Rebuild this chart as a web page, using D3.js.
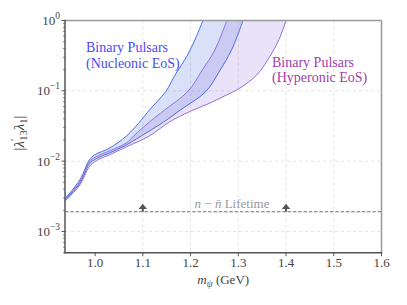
<!DOCTYPE html>
<html><head><meta charset="utf-8">
<script src="https://cdn.jsdelivr.net/npm/d3@7"></script>
<style>body{margin:0;background:#fff}svg{display:block}text{font-family:"Liberation Serif","DejaVu Serif",serif}</style>
</head><body><svg id="c" width="407" height="305"></svg>
<script>
// ---- data ----
const nucUpperX = [0.936,0.968,0.988,0.999,1.030,1.066,1.097,1.114,1.148,1.169,1.192,1.211,1.226];
const nucUpperY = [2.88e-3,5.41e-3,1.04e-2,1.23e-2,1.53e-2,2.29e-2,3.86e-2,5.36e-2,9.77e-2,0.175,0.308,0.568,1.0];
const nucLowerX = [0.936,0.968,0.988,1.003,1.030,1.062,1.097,1.144,1.179,1.232,1.261,1.286,1.310];
const nucLowerY = [2.77e-3,4.83e-3,9.14e-3,1.09e-2,1.31e-2,1.65e-2,2.29e-2,3.62e-2,5.36e-2,9.77e-2,0.192,0.383,1.0];
const hypUpperX = [0.936,0.968,0.988,1.001,1.030,1.066,1.081,1.114,1.146,1.194,1.225,1.251,1.276];
const hypUpperY = [2.81e-3,5.07e-3,9.76e-3,1.15e-2,1.40e-2,1.82e-2,2.29e-2,3.62e-2,5.36e-2,9.77e-2,0.199,0.383,1.0];
const hypLowerX = [0.936,0.968,0.988,1.003,1.030,1.066,1.114,1.156,1.198,1.240,1.276,1.303,1.339,1.366,1.385,1.400];
const hypLowerY = [2.66e-3,4.59e-3,8.37e-3,1.02e-2,1.23e-2,1.60e-2,2.29e-2,3.62e-2,5.07e-2,6.68e-2,8.77e-2,0.109,0.169,0.308,0.531,1.0];
const lifetimeBound = 1.91e-3;
const arrowMasses = [1.1, 1.4];
const xTicks = [1.0,1.1,1.2,1.3,1.4,1.5,1.6];
const yTickExps = [0,-1,-2,-3];
const xDomain = [0.937, 1.6];
const yDomain = [5e-4, 1];

// ---- layout ----
const W=407,H=305, m={l:65,r:25.5,t:20.5,b:52.3};
const svg=d3.select("#c");
const x=d3.scaleLinear().domain(xDomain).range([m.l,W-m.r]);
const y=d3.scaleLog().domain(yDomain).range([H-m.b,m.t]);

svg.append("defs").append("clipPath").attr("id","clip").append("rect")
  .attr("x",m.l).attr("y",m.t).attr("width",W-m.l-m.r).attr("height",H-m.t-m.b);

// grid
const g=svg.append("g");
g.selectAll(".gx").data(xTicks.slice(1,-1)).join("line")
  .attr("x1",d=>x(d)).attr("x2",d=>x(d)).attr("y1",m.t).attr("y2",H-m.b)
  .attr("stroke","#dcdcdc").attr("stroke-width",0.8).attr("stroke-dasharray","3,3");
g.selectAll(".gy").data(yTickExps.slice(1)).join("line")
  .attr("y1",d=>y(Math.pow(10,d))).attr("y2",d=>y(Math.pow(10,d))).attr("x1",m.l).attr("x2",W-m.r)
  .attr("stroke","#dcdcdc").attr("stroke-width",0.8).attr("stroke-dasharray","3,3");

const pts=(xs,ys)=>xs.map((v,i)=>[x(v),y(ys[i])]);
const line=d3.line().curve(d3.curveCatmullRom.alpha(0.5));
const band=(up,lo)=>line(up)+"L"+line(lo.slice().reverse()).slice(1)+"Z";

const nU=pts(nucUpperX,nucUpperY), nL=pts(nucLowerX,nucLowerY);
const hU=pts(hypUpperX,hypUpperY), hL=pts(hypLowerX,hypLowerY);
const cg=svg.append("g").attr("clip-path","url(#clip)");
cg.append("path").attr("d",band(nU,nL)).attr("fill","royalblue").attr("fill-opacity",0.2);
cg.append("path").attr("d",band(hU,hL)).attr("fill","mediumpurple").attr("fill-opacity",0.2);
[[nU,"#4a6ee0"],[nL,"#4a6ee0"],[hU,"#9370db"],[hL,"#9370db"]].forEach(([p,c])=>{
  cg.append("path").attr("d",line(p)).attr("fill","none").attr("stroke",c).attr("stroke-width",1);
});

// lifetime bound
cg.append("line").attr("x1",m.l).attr("x2",W-m.r).attr("y1",y(lifetimeBound)).attr("y2",y(lifetimeBound))
  .attr("stroke","#707070").attr("stroke-width",1).attr("stroke-dasharray","3.5,1.8");
arrowMasses.forEach(mv=>{
  const px=x(mv), py=y(lifetimeBound);
  cg.append("line").attr("x1",px).attr("x2",px).attr("y1",py).attr("y2",py-4).attr("stroke","#555").attr("stroke-width",2);
  cg.append("path").attr("d",`M${px-4.2},${py-2.8}L${px+4.2},${py-2.8}L${px},${py-8}Z`).attr("fill","#555");
});
const lt=svg.append("text").attr("x",232).attr("y",208).attr("text-anchor","middle").attr("font-size",13).attr("fill","#999");
lt.append("tspan").attr("font-style","italic").text("n");
lt.append("tspan").text(" \u2212 ");
lt.append("tspan").attr("font-style","italic").text("n\u0304");
lt.append("tspan").text(" Lifetime");

// labels
const lab=(t,xx,yy,c)=>svg.append("text").attr("x",xx).attr("y",yy).attr("font-size",14).attr("fill",c).text(t);
lab("Binary Pulsars",86,52,"#4b4bf0");
lab("(Nucleonic EoS)",86,67.5,"#4b4bf0");
lab("Binary Pulsars",272,66.5,"#a040a8");
lab("(Hyperonic EoS)",272,82,"#a040a8");

// spines
svg.append("line").attr("x1",m.l).attr("x2",W-m.r).attr("y1",m.t).attr("y2",m.t).attr("stroke","#999").attr("stroke-width",1.5);
svg.append("line").attr("x1",W-m.r).attr("x2",W-m.r).attr("y1",m.t).attr("y2",H-m.b).attr("stroke","#999").attr("stroke-width",1.5);
svg.append("line").attr("x1",m.l).attr("x2",m.l).attr("y1",m.t-0.75).attr("y2",H-m.b+0.75).attr("stroke","#555").attr("stroke-width",1.5);
svg.append("line").attr("x1",m.l-0.75).attr("x2",W-m.r+0.75).attr("y1",H-m.b).attr("y2",H-m.b).attr("stroke","#555").attr("stroke-width",1.5);

// x ticks
xTicks.forEach(t=>{
  svg.append("line").attr("x1",x(t)).attr("x2",x(t)).attr("y1",H-m.b).attr("y2",H-m.b+3.5).attr("stroke","#555").attr("stroke-width",1);
  svg.append("text").attr("x",x(t)).attr("y",H-m.b+14).attr("text-anchor","middle").attr("font-size",13).attr("fill","#444").text(t.toFixed(1));
});
// y ticks
yTickExps.forEach(e=>{
  const py=y(Math.pow(10,e));
  svg.append("line").attr("x1",m.l-3.5).attr("x2",m.l).attr("y1",py).attr("y2",py).attr("stroke","#555").attr("stroke-width",1);
  const t=svg.append("text").attr("x",m.l-5).attr("y",py+4.5).attr("text-anchor","end").attr("font-size",13).attr("fill","#444");
  t.append("tspan").text("10");
  t.append("tspan").attr("dy",-6).attr("font-size",9.5).text(e===0?"0":"\u2212"+(-e));
});
const minors=[];
[-4,-3,-2,-1].forEach(e=>{for(let k=2;k<=9;k++){const v=k*Math.pow(10,e); if(v>=yDomain[0]&&v<yDomain[1]) minors.push(v);}});
minors.forEach(v=>{
  svg.append("line").attr("x1",m.l-2).attr("x2",m.l).attr("y1",y(v)).attr("y2",y(v)).attr("stroke","#555").attr("stroke-width",0.7);
});

// axis titles
const xl=svg.append("text").attr("x",(m.l+W-m.r)/2).attr("y",284).attr("text-anchor","middle").attr("font-size",13).attr("fill","#444");
xl.append("tspan").attr("font-style","italic").text("m");
xl.append("tspan").attr("font-style","italic").attr("font-size",9.5).attr("dy",3).text("\u03c8");
xl.append("tspan").attr("dy",-3).text(" (GeV)");
const yl=svg.append("text").attr("transform","translate(24,133) rotate(-90)").attr("text-anchor","middle").attr("font-size",15).attr("fill","#444");
yl.append("tspan").text("|");
yl.append("tspan").attr("font-style","italic").text("\u03bb");
yl.append("tspan").attr("font-size",10.5).attr("dy",-6).text("\u2032");
yl.append("tspan").attr("font-size",10.5).attr("dy",9).attr("dx",-2).text("13");
yl.append("tspan").attr("font-style","italic").attr("dy",-3).text("\u03bb");
yl.append("tspan").attr("font-size",10.5).attr("dy",3).text("1");
yl.append("tspan").attr("dy",-3).text("|");
</script></body></html>
